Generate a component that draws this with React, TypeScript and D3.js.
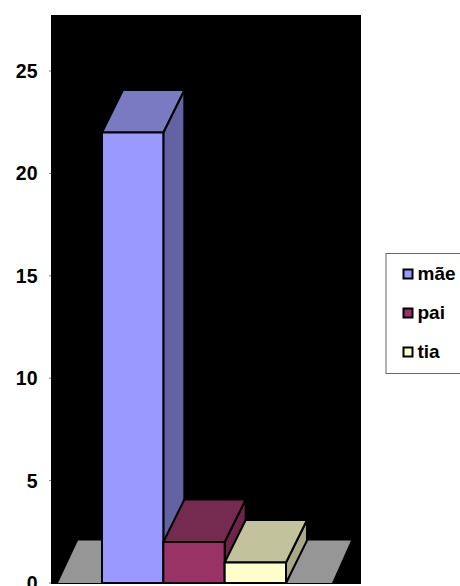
import React from "react";
import * as d3 from "d3";

const categories = ["mãe", "pai", "tia"];
const values = [22, 2, 1];
const frontColors = ["#9999ff", "#993366", "#ffffcc"];
const topColors = ["#7a7ac2", "#752b50", "#c2c29c"];
const sideColors = ["#6363a3", "#6c2548", "#a9a988"];
const tickValues = [0, 5, 10, 15, 20, 25];

const W = 460, H = 586;
const dx = 21, dy = -42.5;
const y = d3.scaleLinear().domain([0, 25]).range([583, 71]);
const x = d3.scaleBand<string>().domain(categories).range([102, 286]).padding(0);
const poly = (pts: [number, number][]) => d3.line()(pts)! + "Z";
const font = "'Liberation Sans', Arial, sans-serif";

export default function App() {
  const y0 = y(0);
  const legendY = [274, 313, 352];
  return (
    <svg width={W} height={H} viewBox={`0 0 ${W} ${H}`} style={{ position: "fixed", left: 0, top: 0, display: "block" }}>
      <rect width={W} height={H} fill="#fff" />
      <rect x={51} y={15} width={310} height={569} fill="#000" />
      {/* floor */}
      <path d={poly([[58, y0], [78, y0 + dy], [102, y0 + dy], [102, y0]])} fill="#969696" />
      <path d={poly([[287, y0], [307, y0 + dy], [351, y0 + dy], [332, y0]])} fill="#969696" />
      {/* bars */}
      {categories.map((c, i) => {
        const x0 = x(c)!, x1 = x0 + x.bandwidth(), yt = y(values[i]);
        return (
          <g key={c} stroke="#000" strokeWidth={2} strokeLinejoin="round">
            <path d={poly([[x1, yt], [x1 + dx, yt + dy], [x1 + dx, y0 + dy], [x1, y0]])} fill={sideColors[i]} />
            <path d={poly([[x0, yt], [x0 + dx, yt + dy], [x1 + dx, yt + dy], [x1, yt]])} fill={topColors[i]} />
            <rect x={x0} y={yt} width={x.bandwidth()} height={y0 - yt} fill={frontColors[i]} />
          </g>
        );
      })}
      {/* axis */}
      {tickValues.map((t) => (
        <g key={t}>
          <line x1={49} x2={51} y1={y(t)} y2={y(t)} stroke="#808080" />
          <text x={37.5} y={y(t) + 7} textAnchor="end" fontFamily={font} fontWeight="bold" fontSize={19.5} fill="#000">{t}</text>
        </g>
      ))}
      {/* legend */}
      <rect x={386} y={253.5} width={80} height={120} fill="#fff" stroke="#666" strokeWidth={1} />
      {categories.map((c, i) => (
        <g key={c}>
          <rect x={403.5} y={legendY[i] - 4.5} width={9} height={9} fill={frontColors[i]} stroke="#000" strokeWidth={2} />
          <text x={417.5} y={legendY[i] + 6} fontFamily={font} fontWeight="bold" fontSize={19} fill="#000">{c}</text>
        </g>
      ))}
    </svg>
  );
}
